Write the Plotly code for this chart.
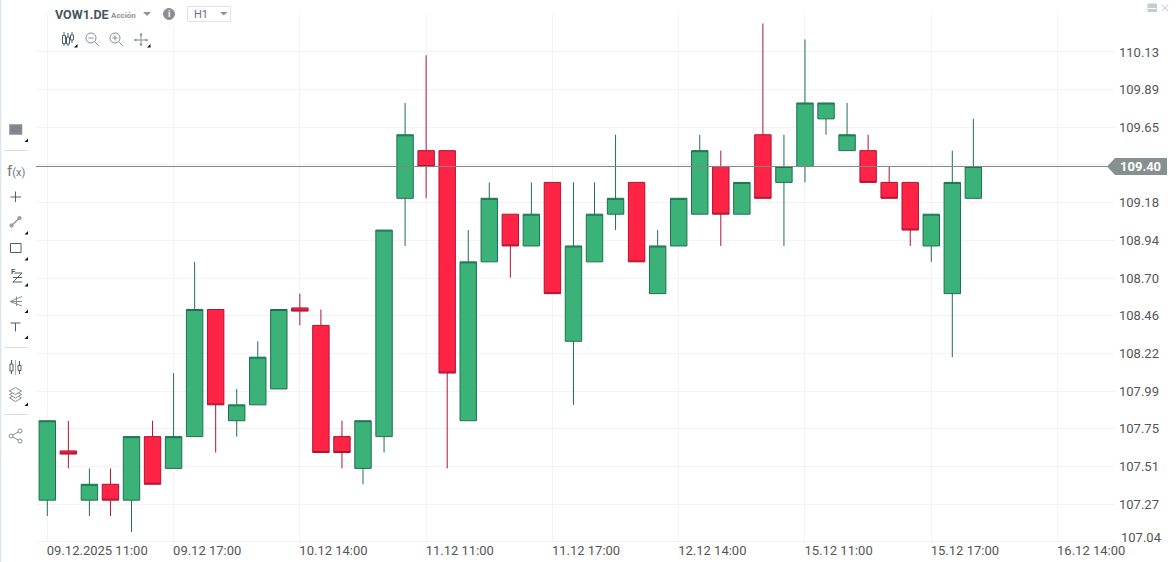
import plotly.graph_objects as go

W = 1176
H = 562
# plot area in page pixels
LEFT, RIGHT, TOP, BOTTOM = 36, 1115, 14, 541

bar_index = list(range(45))
open_px = [107.30, 107.61, 107.30, 107.40, 107.30, 107.70, 107.50, 107.70, 108.50, 107.80,
           107.90, 108.00, 108.51, 108.40, 107.70, 107.50, 107.70, 109.20, 109.50, 109.50,
           107.80, 108.80, 109.10, 108.90, 109.30, 108.30, 108.80, 109.10, 109.30, 108.60,
           108.90, 109.10, 109.40, 109.10, 109.60, 109.30, 109.40, 109.70, 109.50, 109.50,
           109.30, 109.30, 108.90, 108.60, 109.20]
high_px = [107.80, 107.80, 107.50, 107.50, 107.70, 107.80, 108.10, 108.80, 108.50, 108.00,
           108.30, 108.50, 108.60, 108.50, 107.80, 107.80, 109.00, 109.80, 110.10, 109.50,
           109.00, 109.30, 109.10, 109.30, 109.30, 109.30, 109.30, 109.60, 109.30, 109.00,
           109.20, 109.60, 109.50, 109.30, 110.30, 109.60, 110.20, 109.80, 109.80, 109.60,
           109.40, 109.30, 109.10, 109.50, 109.70]
low_px = [107.20, 107.50, 107.20, 107.20, 107.10, 107.40, 107.50, 107.70, 107.60, 107.70,
          107.90, 108.00, 108.40, 107.60, 107.50, 107.40, 107.60, 108.90, 109.20, 107.50,
          107.80, 108.80, 108.70, 108.90, 108.60, 107.90, 108.80, 109.00, 108.80, 108.60,
          108.90, 109.10, 108.90, 109.10, 109.20, 108.90, 109.30, 109.60, 109.50, 109.30,
          109.20, 108.90, 108.80, 108.20, 109.20]
close_px = [107.80, 107.59, 107.40, 107.30, 107.70, 107.40, 107.70, 108.50, 107.90, 107.90,
            108.20, 108.50, 108.49, 107.60, 107.60, 107.80, 109.00, 109.60, 109.40, 108.10,
            108.80, 109.20, 108.90, 109.10, 108.60, 108.90, 109.10, 109.20, 108.80, 108.90,
            109.20, 109.50, 109.10, 109.30, 109.20, 109.40, 109.80, 109.80, 109.60, 109.30,
            109.20, 109.00, 109.10, 109.30, 109.40]

x_ticks = [0, 6, 12, 18, 24, 30, 36, 42, 48]
x_labels = ["09.12.2025 11:00", "09.12 17:00", "10.12 14:00", "11.12 11:00", "11.12 17:00",
            "12.12 14:00", "15.12 11:00", "15.12 17:00", "16.12 14:00"]
y_ticks = [110.121, 109.884, 109.647, 109.41, 109.172, 108.935, 108.698, 108.461, 108.224, 107.987,
           107.749, 107.512, 107.275]
y_labels = ["110.13", "109.89", "109.65", "", "109.18", "108.94", "108.70", "108.46", "108.22",
            "107.99", "107.75", "107.51", "107.27"]
last_price = 109.40

GRID = "#f3f3f5"
ICON = "#4f5f6b"
ICON2 = "#858f96"


def px(x):
    return (x - LEFT) / (RIGHT - LEFT)


def py(y):
    return (BOTTOM - y) / (BOTTOM - TOP)


shapes = []
annots = []


def line(x0, y0, x1, y1, color=ICON, width=1):
    shapes.append(dict(type="line", xref="paper", yref="paper", x0=px(x0), y0=py(y0), x1=px(x1), y1=py(y1),
                       line=dict(color=color, width=width)))


def box(x0, y0, x1, y1, color=ICON, fill="rgba(0,0,0,0)", width=1):
    shapes.append(dict(type="rect", xref="paper", yref="paper", x0=px(x0), y0=py(y0), x1=px(x1), y1=py(y1),
                       line=dict(color=color, width=width), fillcolor=fill))


def circle(cx, cy, r, color=ICON, fill="rgba(0,0,0,0)", width=1):
    shapes.append(dict(type="circle", xref="paper", yref="paper", x0=px(cx - r), y0=py(cy - r), x1=px(cx + r),
                       y1=py(cy + r), line=dict(color=color, width=width), fillcolor=fill))


def poly(points, color):
    path = "M" + " L".join(f"{px(a):.5f},{py(b):.5f}" for a, b in points) + " Z"
    shapes.append(dict(type="path", xref="paper", yref="paper", path=path, fillcolor=color, line=dict(width=0)))


def label(x, y, text, size=13, color="#555555", anchor="left", family="Roboto"):
    annots.append(dict(xref="paper", yref="paper", x=px(x), y=py(y), text=text, showarrow=False, xanchor=anchor,
                       yanchor="middle", borderpad=0, font=dict(family=family, size=size, color=color)))


def corner(x, y):
    # little black triangle under the tool buttons
    poly([(x - 2, y + 1.5), (x + 1.5, y + 1.5), (x + 1.5, y - 2)], "#111111")


# left edge of the panel and the white patch behind the top toolbar
box(0, 0, 1.3, H, color="#dbe5ea", fill="#dbe5ea", width=0)
box(49, 13, 236, 27.5, color="white", fill="white", width=0)

# price line and its tag
shapes.append(dict(type="line", xref="paper", yref="y", x0=0, x1=px(1108), y0=last_price, y1=last_price,
                   line=dict(color="#7f8787", width=1), layer="above"))
shapes.append(dict(type="path", xref="paper", yref="y", xanchor=1, xsizemode="pixel", yanchor=last_price,
                   ysizemode="pixel", path="M-8,0 L0,8.5 L52,8.5 L52,-8.5 L0,-8.5 Z", fillcolor="#879090",
                   line=dict(width=0)))
annots.append(dict(xref="paper", yref="y", x=px(1119), y=last_price, text="<b>109.40</b>", showarrow=False,
                   xanchor="left", yanchor="middle", borderpad=0, font=dict(family="Roboto", size=13, color="white")))
# lowest price label is kept inside the chart, above its grid line
label(1119.5, 537, "107.04")

# header
label(53.5, 14.5, "<b>VOW1.DE</b>", size=12.5, color="#45555f")
label(109.5, 15.5, "<b>Acción</b>", size=8, color="#8d9499")
poly([(143, 12), (151, 12), (147, 16)], "#8d9499")
circle(169, 14, 5.5, color="#8a8f93", fill="#8a8f93")
label(169, 14, "<b>i</b>", size=9, color="white", anchor="center")
box(187.5, 6.5, 230.5, 21.5, color="#e2e2e2", fill="white")
label(192.5, 14.5, "H1", size=11, color="#666f76")
poly([(220, 12), (227.5, 12), (223.7, 15.5)], "#8d9499")

# window buttons
box(1148, 4, 1156.5, 11.5, color="#c5cbcf", fill="#c5cbcf")
line(1148, 8.5, 1156.5, 8.5, color="white", width=1)
line(1162, 4.5, 1168, 11, color="#c5cbcf")
line(1168, 4.5, 1162, 11, color="#c5cbcf")

# top toolbar icons
line(64, 32, 64, 46)
box(62.5, 35.5, 65.5, 43.5, fill="white")
line(68, 33, 68, 46)
box(66.5, 37, 69.5, 44, fill="white")
line(72, 32, 72, 43)
box(70.5, 35, 73.5, 40, fill="white")
corner(76, 46)
circle(91, 38, 5, color=ICON2)
line(88.5, 38, 93.5, 38, color=ICON2)
line(95, 42, 99, 46, color=ICON2)
circle(115, 38, 5, color=ICON2)
line(112.5, 38, 117.5, 38, color=ICON2)
line(115, 35.5, 115, 40.5, color=ICON2)
line(119, 42, 123, 46, color=ICON2)
line(134, 40, 148, 40, color=ICON2)
line(141, 33, 141, 46, color=ICON2)
poly([(134, 40), (136.5, 38.5), (136.5, 41.5)], ICON2)
poly([(148, 40), (145.5, 38.5), (145.5, 41.5)], ICON2)
poly([(141, 33), (139.5, 35.5), (142.5, 35.5)], ICON2)
poly([(141, 46), (139.5, 43.5), (142.5, 43.5)], ICON2)
corner(149, 46)

# left toolbar icons
box(10, 125, 21.5, 134, color=ICON2, fill="#7e878d", width=1.5)
corner(26.5, 140.5)
line(4, 150.5, 28, 150.5, color="#dedede")
label(16, 170.5, "f<span style='font-size:11px'>(x)</span>", size=15, color="#6b7880", anchor="center")
line(10.5, 197, 21, 197)
line(15.5, 191.5, 15.5, 202)
line(11.5, 225.5, 19, 218.5, color=ICON2, width=1.2)
circle(11.5, 225.5, 1.6, color=ICON2, fill="#a4acb1")
circle(19.5, 218, 1.6, color=ICON2, fill="#a4acb1")
corner(26.5, 233)
box(10.5, 243.5, 21, 252.5)
corner(26.5, 259)
label(9.5, 271, "<b>F</b>", size=8, color=ICON)
line(14.5, 273, 22, 273)
line(22, 273, 13, 282)
line(13, 277.5, 22, 277.5)
line(12.5, 282, 22, 282)
corner(26.5, 285)
line(10, 301.5, 22, 296.5, color=ICON2)
line(10, 301.5, 22, 301.5, color=ICON2)
line(10, 301.5, 22, 306, color=ICON2)
line(16.5, 296.5, 16.5, 306, color=ICON2)
corner(26.5, 311.5)
line(10.5, 323, 20.5, 323)
line(15.5, 323, 15.5, 331.5)
corner(26.5, 337.5)
line(4, 347.5, 28, 347.5, color="#dedede")
line(11.5, 360, 11.5, 374)
box(10, 364, 13, 371, fill="white")
line(15.5, 360, 15.5, 375, color="#a9b0b5")
line(19.5, 361, 19.5, 374)
box(18, 365.5, 21, 370.5, fill="white")
for dy in (7, 3.5, 0):
    shapes.append(dict(type="path", xref="paper", yref="paper",
                       path="M" + " L".join(f"{px(a):.5f},{py(b + dy):.5f}" for a, b in
                                            [(9.5, 391), (15.5, 387.5), (21.5, 391), (15.5, 394.5)]) + " Z",
                       fillcolor="white", line=dict(color=ICON2, width=1)))
corner(26.5, 404.5)
line(4, 414.5, 28, 414.5, color="#dedede")
line(11, 436, 20, 431, color=ICON2)
line(11, 436, 20, 441, color=ICON2)
circle(11, 436, 2, color=ICON2, fill="white")
circle(20, 431, 2, color=ICON2, fill="white")
circle(20, 441, 2, color=ICON2, fill="white")

fig = go.Figure()
fig.add_trace(go.Candlestick(
    x=bar_index, open=open_px, high=high_px, low=low_px, close=close_px,
    whiskerwidth=0,
    increasing=dict(line=dict(color="#1f7050", width=1), fillcolor="#3bb278"),
    decreasing=dict(line=dict(color="#ae1533", width=1), fillcolor="#ff2345"),
    showlegend=False,
))

fig.update_layout(
    width=W, height=H,
    autosize=False,
    margin=dict(l=LEFT, r=W - RIGHT, t=TOP, b=H - BOTTOM, pad=0, autoexpand=False),
    paper_bgcolor="white",
    plot_bgcolor="white",
    boxgap=0.22,
    boxgroupgap=0,
    font=dict(family="Roboto", size=13, color="#555555"),
    xaxis=dict(
        range=[-0.537, 50.73],
        automargin=False,
        rangeslider=dict(visible=False),
        tickmode="array", tickvals=x_ticks, ticktext=x_labels,
        ticklabelposition="outside right",
        ticklabelstandoff=-3,
        ticklabelshift=-1,
        showgrid=True, gridcolor=GRID, gridwidth=1, zeroline=False,
        showline=True, linecolor=GRID, ticks="",
    ),
    yaxis=dict(
        side="right",
        automargin=False,
        range=[107.043, 110.36],
        tickmode="array", tickvals=y_ticks, ticktext=y_labels,
        ticklabelstandoff=3,
        showgrid=True, gridcolor=GRID, gridwidth=1, zeroline=False,
        showline=False, ticks="",
    ),
    shapes=shapes,
    annotations=annots,
)

# the page has a default 8px body margin, drop it so the chart fills the window
fig.write_html("out.html", config={"displayModeBar": False}, post_script="document.body.style.margin='0';")
